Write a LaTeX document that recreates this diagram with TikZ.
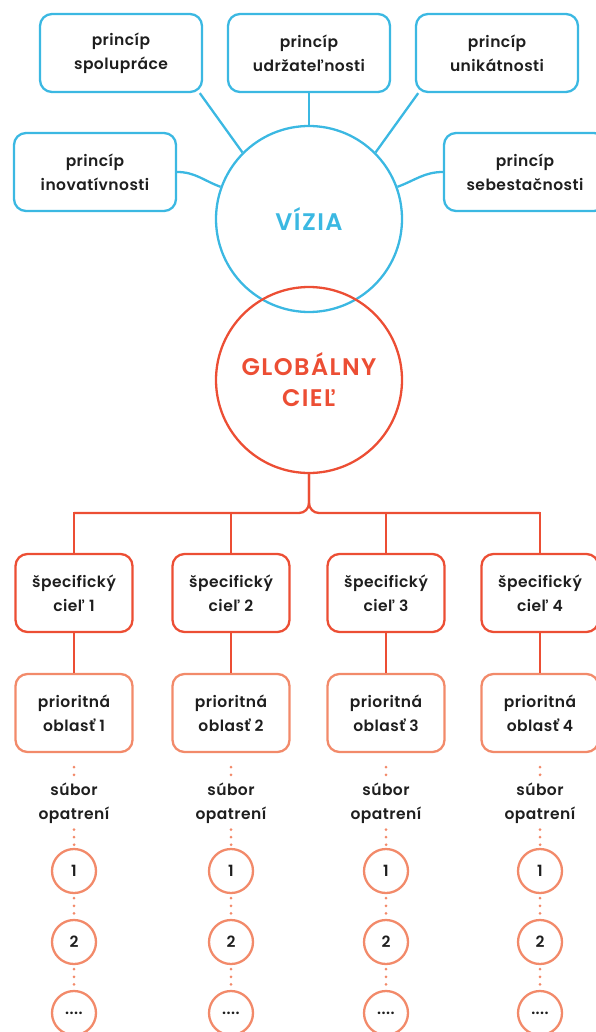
\documentclass[tikz,border=0pt]{standalone}
\usepackage{fontspec}
\setmainfont{Poppins}[UprightFont=* SemiBold, BoldFont=* Bold]
\usetikzlibrary{calc}
\definecolor{viziablue}{RGB}{59,184,226}
\definecolor{cielred}{RGB}{236,78,52}
\definecolor{oblastsalmon}{RGB}{242,138,106}
\definecolor{textgray}{RGB}{30,30,30}

\begin{document}
\begin{tikzpicture}[x=1pt, y=-1pt,
    every node/.style={text=textgray, align=center,
        font=\fontsize{15.5}{24}\selectfont\addfontfeature{LetterSpace=3}},
    princip/.style={draw=viziablue, line width=2.3pt, rounded corners=12pt,
        minimum width=162pt, minimum height=78pt},
    specificky/.style={draw=cielred, line width=2.3pt, rounded corners=12pt,
        minimum width=117pt, minimum height=78pt},
    oblast/.style={draw=oblastsalmon, line width=2.3pt, rounded corners=12pt,
        minimum width=117pt, minimum height=78pt},
    opatrenie/.style={draw=oblastsalmon, line width=2.3pt, circle, inner sep=0pt,
        minimum size=44pt},
    bigcircle/.style={circle, line width=2.3pt, inner sep=0pt, minimum size=186pt,
        font=\fontsize{24}{31}\selectfont\addfontfeature{LetterSpace=6}},
    vizialine/.style={draw=viziablue, line width=2.3pt},
    ciellline/.style={draw=cielred, line width=2.3pt},
    dotline/.style={draw=oblastsalmon, line width=3pt, line cap=round,
        dash pattern=on 0pt off 7.6pt, shorten <=4pt, shorten >=2pt}]

    \useasboundingbox (0,0) rectangle (595,1032);

    % principles
    \node[princip] (spol) at (121,53) {princíp\\spolupráce};
    \node[princip] (udr) at (309,53) {princíp\\udržateľnosti};
    \node[princip] (uni) at (497,53) {princíp\\unikátnosti};
    \node[princip] (ino) at (95,172) {princíp\\inovatívnosti};
    \node[princip] (seb) at (525,172) {princíp\\sebestačnosti};

    % vision and global goal
    \node[bigcircle, draw=viziablue, text=viziablue] (vizia) at (309,219) {VÍZIA};
    \node[bigcircle, draw=cielred, text=cielred] (glob) at (309,380) {GLOBÁLNY\\CIEĽ};

    \draw[vizialine] (vizia.135) -- (spol.-27);
    \draw[vizialine] (udr.south) -- (vizia.north);
    \draw[vizialine] (vizia.45) -- (uni.-153);
    \draw[vizialine] (ino.east) to[out=0, in=160] (vizia.160);
    \draw[vizialine] (seb.west) to[out=180, in=20] (vizia.20);

    % columns
    \coordinate (bar) at (309,513);
    \foreach \i/\x in {1/74, 2/231, 3/386, 4/540} {
        \node[specificky] (s\i) at (\x,593) {špecifický\\cieľ \i};
        \node[oblast] (p\i) at (\x,713) {prioritná\\oblasť \i};
        \node[inner sep=2pt] (sub\i) at (\x,803) {súbor\\opatrení};
        \node[opatrenie] (o\i1) at (\x,871) {1};
        \node[opatrenie] (o\i2) at (\x,942) {2};
        \node[opatrenie] (o\i3) at (\x,1013) {....};

        \draw[ciellline, line cap=rect] (s\i.north |- bar) -- (s\i.north);
        \draw[ciellline] (s\i.south) -- (p\i.north);
        \draw[dotline, shorten <=14pt, shorten >=0pt] (p\i.south) -- (sub\i.north);
        \draw[dotline] (sub\i.south) -- (o\i1.north);
        \draw[dotline] (o\i1.south) -- (o\i2.north);
        \draw[dotline] (o\i2.south) -- (o\i3.north);
    }
    \draw[ciellline, rounded corners=10pt] (glob.south) |- (s1.north |- bar);
    \draw[ciellline, rounded corners=10pt] (glob.south) |- (s4.north |- bar);

\end{tikzpicture}
\end{document}
